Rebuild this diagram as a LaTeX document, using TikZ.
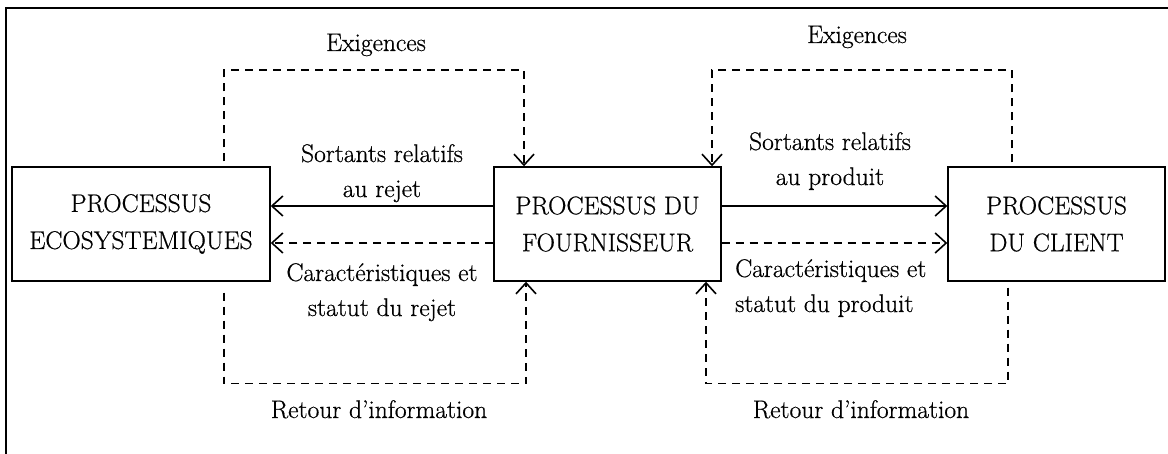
\documentclass[tikz,border=0pt]{standalone}
\usepackage{fontspec}
\setmainfont{Latin Modern Roman}[FakeBold=0.6]
\usetikzlibrary{arrows.meta}
\begin{document}
\begin{tikzpicture}[x=1pt,y=-1pt,
  every node/.style={font=\fontsize{25.5}{35}\selectfont, inner sep=0pt},
  proc/.style={draw, line width=1.4pt, align=center},
  lbl/.style={align=center, anchor=base},
  tip/.style={-{Straight Barb[length=11pt,width=20pt,line width=1.6pt]}},
  conn/.style={line width=1.6pt, tip},
  dsh/.style={conn, dash pattern=on 8pt off 6pt}]
\useasboundingbox (0,0) rectangle (1168,454);
\draw[line width=2pt] (6,454) -- (6,8) -- (1168,8);
% boxes
\node[proc, minimum width=258pt, minimum height=114pt, font=\fontsize{25.5}{37}\selectfont] (eco) at (141,224) {PROCESSUS\\ECOSYSTEMIQUES};
\node[proc, minimum width=227pt, minimum height=114pt, font=\fontsize{25.5}{37}\selectfont] (mid) at (607.5,224) {PROCESSUS DU\\FOURNISSEUR};
\node[proc, minimum width=217pt, minimum height=114pt, font=\fontsize{25.5}{37}\selectfont] (cli) at (1056.5,224) {PROCESSUS\\DU CLIENT};
% horizontal flows
\draw[conn] ([yshift=18pt]mid.west) -- ([yshift=18pt]eco.east);
\draw[dsh]  ([yshift=-19pt]mid.west) -- ([yshift=-19pt]eco.east);
\draw[conn] ([yshift=18pt]mid.east) -- ([yshift=18pt]cli.west);
\draw[dsh]  ([yshift=-19pt]mid.east) -- ([yshift=-19pt]cli.west);
% loops
\draw[dsh] ([xshift=83pt,yshift=5pt]eco.north) -- ++(0,-91) -| ([xshift=-83.5pt]mid.north);
\draw[dsh] ([xshift=-44.5pt,yshift=4pt]cli.north) -- ++(0,-92) -| ([xshift=104.5pt]mid.north);
\draw[dsh] ([xshift=83pt,yshift=-11pt]eco.south) -- ++(0,91) -| ([xshift=-81.5pt]mid.south);
\draw[dsh] ([xshift=-48.5pt,yshift=-6pt]cli.south) -- ++(0,96) -| ([xshift=98.5pt]mid.south);
% labels (base = baseline of last line)
\node[lbl] (exg1) at (376,51) {Exigences};
\node[lbl] (exg2) at (857,43) {Exigences};
\node[lbl] (sr1) at (382,197) {Sortants relatifs\\au rejet};
\node[lbl] (sr2) at (830,185) {Sortants relatifs\\au produit};
\node[lbl] (cr1) at (382,316) {Caractéristiques et\\statut du rejet};
\node[lbl, align=left, anchor=base west] (cr2) at (735,312) {Caractéristiques et\\statut du produit};
\node[lbl] (ri1) at (379,418) {Retour d’information};
\node[lbl] (ri2) at (861,418) {Retour d’information};
\end{tikzpicture}
\end{document}
